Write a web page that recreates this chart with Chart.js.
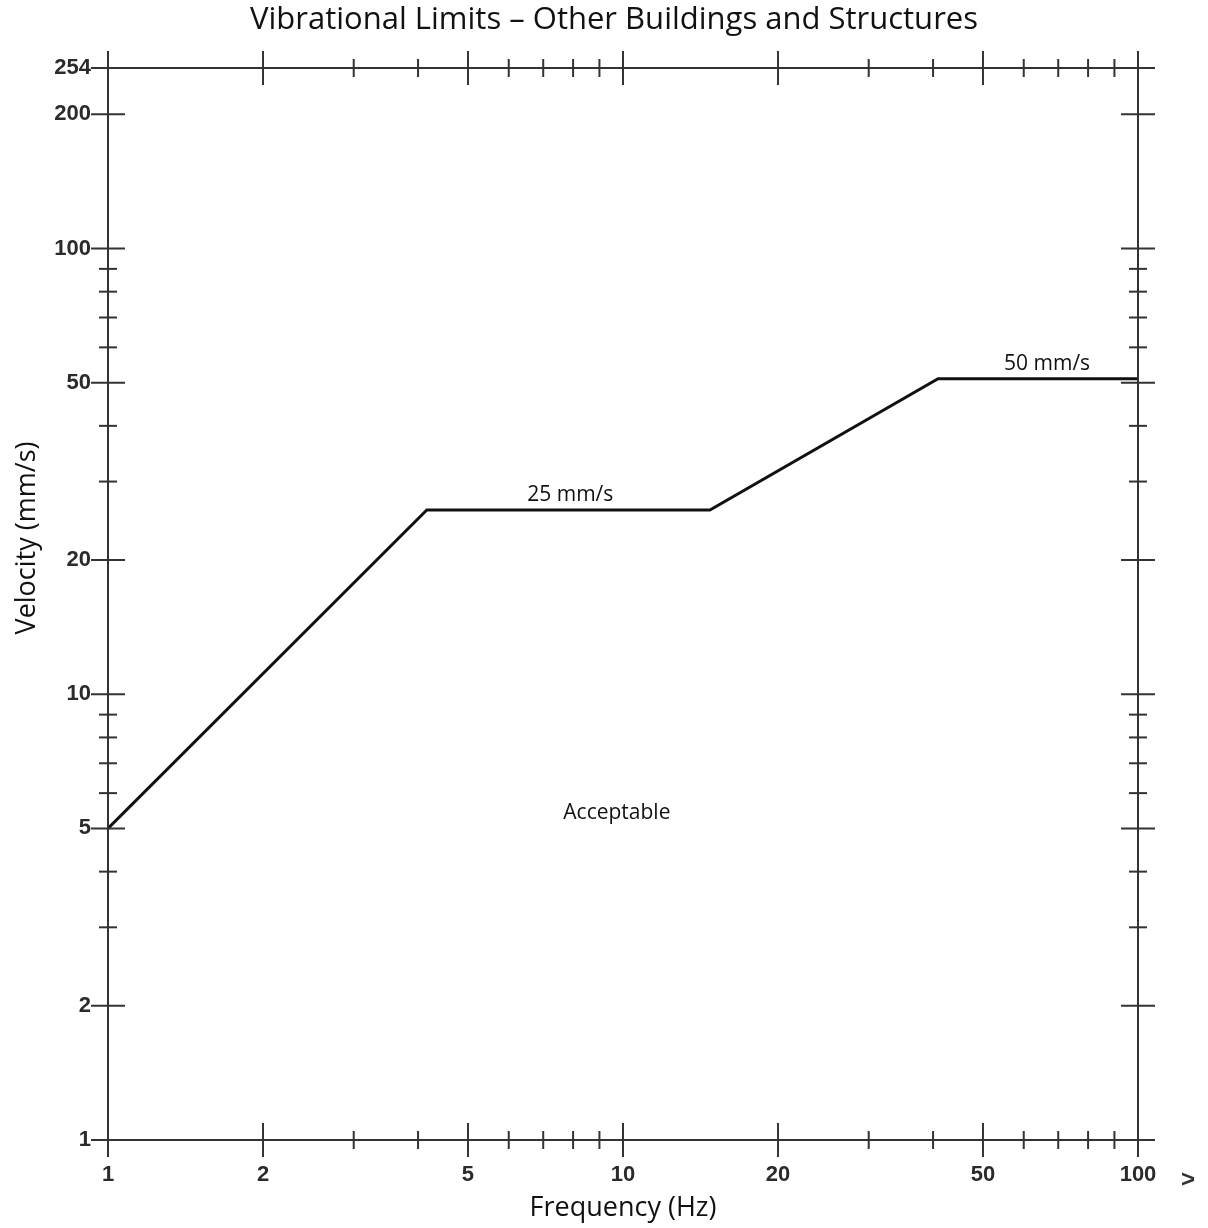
<!DOCTYPE html>
<html>
<head>
<meta charset="utf-8">
<title>Vibrational Limits</title>
<script src="https://cdn.jsdelivr.net/npm/chart.js@4"></script>
<style>
  body { margin: 0; background: #fff; }
  #wrap { width: 1208px; height: 1228px; position: relative; }
</style>
</head>
<body>
<div id="wrap"><canvas id="myChart"></canvas></div>
<script>
'use strict';

// Data

let freq = [1, 4.16, 14.75, 40.9, 100];
let velocity = [5, 25.9, 25.9, 51, 51];

let xLabels = [1, 2, 5, 10, 20, 50, 100];
let yLabels = [1, 2, 5, 10, 20, 50, 100, 200, 254];
let minorTicks = [3, 4, 6, 7, 8, 9, 30, 40, 60, 70, 80, 90];

let noteText = ['25 mm/s', '50 mm/s', 'Acceptable'];
let noteFreq = [7.9, 66.6, 9.73];
let noteVel = [25.9, 51, 5.41];
let noteLift = [15, 15, 0];

//Helper Functions

function hLine(ctx, y, x1, x2) {
  ctx.beginPath();
  ctx.moveTo(x1, y);
  ctx.lineTo(x2, y);
  ctx.stroke();
}

function vLine(ctx, x, y1, y2) {
  ctx.beginPath();
  ctx.moveTo(x, y1);
  ctx.lineTo(x, y2);
  ctx.stroke();
}

// draws the frame with crossing ticks, the notes, title and the axis titles
let framePlugin = {
  id: 'frame',
  afterDraw(chart) {
    let ctx = chart.ctx;
    let area = chart.chartArea;
    let xs = chart.scales.x;
    let ys = chart.scales.y;

    ctx.save();
    ctx.strokeStyle = '#333';
    ctx.lineWidth = 2;

    hLine(ctx, area.top, area.left, area.right + 17);
    hLine(ctx, area.bottom, area.left, area.right + 17);
    vLine(ctx, area.left, area.top - 17, area.bottom);
    vLine(ctx, area.right, area.top - 17, area.bottom);

    for (let i = 0; i < xLabels.length; i++) {
      let px = xs.getPixelForValue(xLabels[i]);
      vLine(ctx, px, area.top - 17, area.top + 17);
      vLine(ctx, px, area.bottom - 17, area.bottom + 17);
    }
    for (let i = 0; i < yLabels.length; i++) {
      let py = ys.getPixelForValue(yLabels[i]);
      hLine(ctx, py, area.left - 17, area.left + 17);
      hLine(ctx, py, area.right - 17, area.right + 17);
    }
    for (let i = 0; i < minorTicks.length; i++) {
      let px = xs.getPixelForValue(minorTicks[i]);
      vLine(ctx, px, area.top - 9, area.top + 9);
      vLine(ctx, px, area.bottom - 9, area.bottom + 9);
      let py = ys.getPixelForValue(minorTicks[i]);
      hLine(ctx, py, area.left - 9, area.left + 9);
      hLine(ctx, py, area.right - 9, area.right + 9);
    }

    ctx.fillStyle = '#111';
    ctx.textAlign = 'center';
    ctx.textBaseline = 'middle';
    ctx.font = '21px "Open Sans"';
    for (let i = 0; i < noteText.length; i++) {
      let px = xs.getPixelForValue(noteFreq[i]);
      let py = ys.getPixelForValue(noteVel[i]) - noteLift[i];
      ctx.fillText(noteText[i], px, py);
    }

    ctx.font = '31px "Open Sans"';
    ctx.fillText('Vibrational Limits \u2013 Other Buildings and Structures', 614, 20);

    ctx.font = '27px "Open Sans"';
    ctx.fillText('Frequency (Hz)', (area.left + area.right) / 2, 1208);

    ctx.save();
    ctx.translate(27, 538);
    ctx.rotate(-Math.PI / 2);
    ctx.fillText('Velocity (mm/s)', 0, 0);
    ctx.restore();

    ctx.font = 'bold 24px "Liberation Sans"';
    ctx.fillStyle = '#333';
    ctx.fillText('>', 1188, 1180);

    ctx.restore();
  }
};

let points = [];
for (let i = 0; i < freq.length; i++) {
  points.push({ x: freq[i], y: velocity[i] });
}

let tickFont = { family: '"Liberation Sans"', size: 22, weight: 'bold' };

let ctx = document.getElementById('myChart').getContext('2d');
const myChart = new Chart(ctx, {
  type: 'line',
  data: {
    datasets: [{
      label: 'Limit',
      data: points,
      borderColor: '#111',
      borderWidth: 3,
      pointRadius: 0,
      tension: 0,
      fill: false
    }]
  },
  options: {
    responsive: true,
    maintainAspectRatio: false,
    animation: false,
    layout: { padding: { left: 0, right: 70, top: 68, bottom: 0 } },
    plugins: {
      legend: { display: false },
      tooltip: { enabled: false },
      title: { display: false }
    },
    scales: {
      x: {
        type: 'logarithmic',
        min: 1,
        max: 100,
        grid: { display: false, drawTicks: false },
        border: { display: false },
        afterBuildTicks: (scale) => {
          scale.ticks = xLabels.map(v => ({ value: v }));
        },
        afterFit: (scale) => {
          scale.height = 88;
        },
        ticks: {
          autoSkip: false,
          maxRotation: 0,
          padding: 22,
          color: '#2b2b2b',
          font: tickFont,
          callback: (v) => String(v)
        }
      },
      y: {
        type: 'logarithmic',
        min: 1,
        max: 254,
        grid: { display: false, drawTicks: false },
        border: { display: false },
        afterBuildTicks: (scale) => {
          scale.ticks = yLabels.map(v => ({ value: v }));
        },
        afterFit: (scale) => {
          scale.width = 108;
        },
        ticks: {
          autoSkip: false,
          padding: 17,
          color: '#2b2b2b',
          font: tickFont,
          callback: (v) => String(v)
        }
      }
    }
  },
  plugins: [framePlugin]
});
</script>
</body>
</html>
